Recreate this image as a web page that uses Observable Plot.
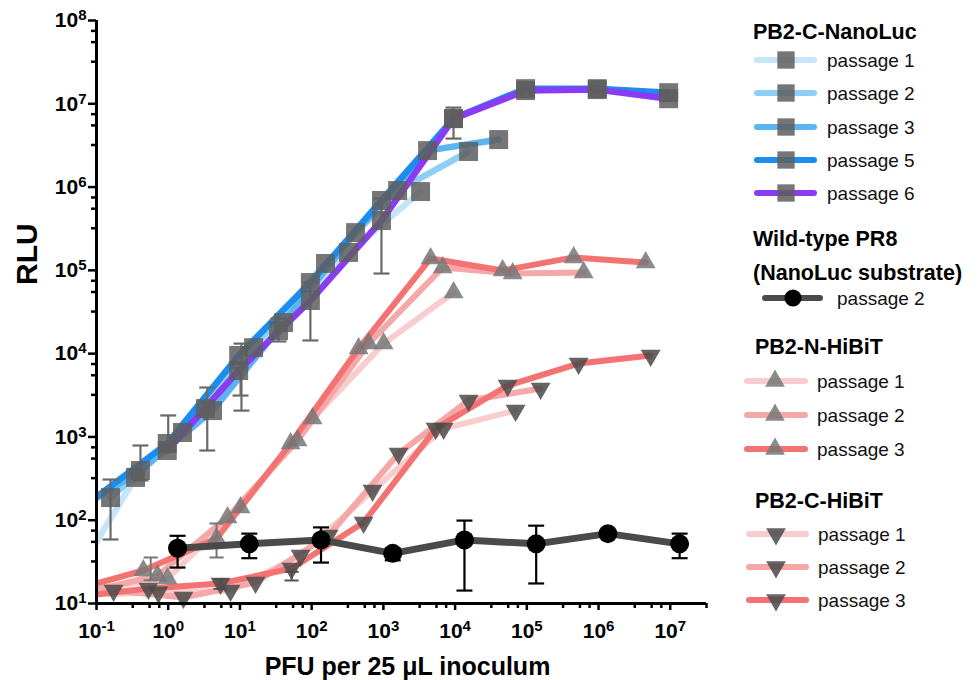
<!DOCTYPE html>
<html><head><meta charset="utf-8">
<script src="https://cdn.jsdelivr.net/npm/d3@7"></script>
<script src="https://cdn.jsdelivr.net/npm/@observablehq/plot@0.6"></script>
<style>
body{margin:0;background:#fff;}
#wrap{position:relative;width:977px;height:680px;font-family:"Liberation Sans",Arial,Helvetica,sans-serif;}
#chart svg{display:block;}
#legend{position:absolute;left:720px;top:0;}
</style></head>
<body><div id="wrap"><div id="chart"></div><svg id="legend" width="257" height="680"></svg></div>
<script>
// ---------- tick values ----------
const xTickExps = [-1, 0, 1, 2, 3, 4, 5, 6, 7];
const yTickExps = [1, 2, 3, 4, 5, 6, 7, 8];
const minorMult = [3.2, 5.5, 7.5];
const xDomain = [0.1, 3.2e7];
const yDomain = [10, 1e8];

// ---------- PB2-C-NanoLuc (squares) ----------
const nlP1X = [0.034, 0.35, 3.3, 34.5, 327, 3300];
const nlP1Y = [12, 326, 2190, 18900, 164000, 883000];
const nlP2X = [0.157, 1.58, 15.5, 156, 1580, 15400];
const nlP2Y = [187, 1130, 11800, 121000, 908000, 2670000];
const nlP3X = [0.041, 0.41, 4.15, 40.6, 409, 4130, 40500];
const nlP3Y = [114, 395, 2070, 23600, 284000, 2740000, 3720000];
const nlP5X = [0.097, 0.97, 9.6, 96, 940, 9500, 96000, 960000, 9500000];
const nlP5Y = [187, 834, 9500, 71400, 690000, 6640000, 15200000, 15200000, 13600000];
const nlP6X = [0.97, 9.6, 96, 940, 9500, 96000, 960000, 9500000];
const nlP6Y = [687, 6270, 43400, 396000, 6640000, 14400000, 14800000, 11500000];
const nlErrX  = [0.157, 0.41, 1.0, 3.5, 10.5, 10.2, 34.5, 96, 940, 9500];
const nlErrLo = [58.7, 300, 687, 687, 2070, 3140, 14000, 14400, 91600, 3820000];
const nlErrHi = [308, 789, 1810, 3920, 13200, 6810, 26400, 71400, 728000, 9000000];

// ---------- Wild-type PR8 (circles) ----------
const wtX  = [1.35, 13.5, 135, 1350, 13500, 135000, 1350000, 13500000];
const wtY  = [46, 52, 58, 40, 58, 52, 69, 52];
const wtLo = [27, 35, 31, 33, 14.3, 17.4, 69, 35];
const wtHi = [65, 69, 82, 46, 99, 86, 69, 69];

// ---------- PB2-N-HiBiT (up triangles) ----------
const nhP1X = [0.097, 0.98, 10.2, 103, 1007, 9530];
const nhP1Y = [15.1, 20.0, 142, 1660, 13200, 54200];
const nhP2X = [0.070, 0.71, 6.71, 63.6, 622, 6700, 63400, 619500];
const nhP2Y = [13.6, 21.7, 108, 906, 13200, 108000, 91600, 94000];
const nhP3X = [0.0448, 0.45, 4.72, 50.8, 451, 4550, 45960, 449600, 4540000];
const nhP3Y = [14.3, 24.9, 60.3, 834, 11500, 139000, 99500, 143000, 124000];
const nhErrX  = [4.72, 0.57];
const nhErrLo = [35.7, 19];
const nhErrHi = [91.3, 35.7];

// ---------- PB2-C-HiBiT (down triangles) ----------
const chP1X = [0.070, 0.73, 7.39, 70.0, 706, 6920, 69800];
const chP1Y = [12.8, 13.6, 14.3, 37.7, 227, 1260, 2070];
const chP2X = [0.0171, 0.173, 1.63, 16.5, 172, 1630, 15400, 155700];
const chP2Y = [11.8, 14.3, 11.8, 17.9, 65.5, 632, 2740, 3810];
const chP3X = [0.0526, 0.53, 5.36, 52.5, 530, 5350, 54000, 527000, 5330000];
const chP3Y = [12.1, 15.1, 17.4, 26.3, 93.8, 1260, 4140, 7600, 9500];
const chErrX  = [52.5, 5.36];
const chErrLo = [18.9, 15];
const chErrHi = [24, 19.5];

// ---------- labels & colours ----------
const xTitle = "PFU per 25 μL inoculum";
const yTitle = "RLU";
const legTitles = ["PB2-C-NanoLuc", "Wild-type PR8", "(NanoLuc substrate)", "PB2-N-HiBiT", "PB2-C-HiBiT"];
const nlLabels = ["passage 1", "passage 2", "passage 3", "passage 5", "passage 6"];
const wtLabels = ["passage 2"];
const hbLabels = ["passage 1", "passage 2", "passage 3"];
const nlColors = ["#c6e5f9", "#8fcff5", "#5bb5f0", "#1c8cef", "#8a3bf4"];
const hbColors = ["#f9cdcd", "#f6a7a7", "#f37272"];
const wtColor = "#4a4a4a";

const FONT = '"Liberation Sans", Arial, Helvetica, sans-serif';
const S3 = Math.sqrt(3);
const symUp = {draw(c, s) {const y = -Math.sqrt(s / (S3 * 3)); c.moveTo(0, 2 * y); c.lineTo(-S3 * y, -y); c.lineTo(S3 * y, -y); c.closePath();}};
const symDown = {draw(c, s) {const y = -Math.sqrt(s / (S3 * 3)); c.moveTo(0, -2 * y); c.lineTo(S3 * y, y); c.lineTo(-S3 * y, y); c.closePath();}};
const symCap = {draw(c, s) {const w = Math.sqrt(s) / 2; c.moveTo(-w, 0); c.lineTo(w, 0);}};

const tbl = (xs, ys) => xs.map((x, i) => ({x, y: ys[i]}));
const errTbl = (xs, lo, hi) => xs.map((x, i) => ({x, lo: lo[i], hi: hi[i]}));
const capTbl = (xs, lo, hi) => xs.flatMap((x, i) => [{x, y: lo[i]}, {x, y: hi[i]}]);
const visible = d => d.x >= xDomain[0] && d.x <= xDomain[1];

const xMajor = xTickExps.map(k => 10 ** k);
const yMajor = yTickExps.map(k => 10 ** k);
const xMinor = xTickExps.flatMap(k => minorMult.map(m => m * 10 ** k)).filter(v => v <= xDomain[1] * 1.001);
const yMinor = yTickExps.slice(0, -1).flatMap(k => minorMult.map(m => m * 10 ** k));

const marks = [];
function lineSeries(xs, ys, color, w) {
  marks.push(Plot.line(tbl(xs, ys), {x: "x", y: "y", stroke: color, strokeWidth: w, curve: "linear", clip: true}));
}
function dotSeries(xs, ys, symbol, r, fill, op) {
  marks.push(Plot.dot(tbl(xs, ys).filter(visible), {x: "x", y: "y", symbol, r, fill, fillOpacity: op, stroke: "none"}));
}
function errSeries(xs, lo, hi, color, w, capR) {
  marks.push(Plot.ruleX(errTbl(xs, lo, hi), {x: "x", y1: "lo", y2: "hi", stroke: color, strokeWidth: w}));
  marks.push(Plot.dot(capTbl(xs, lo, hi), {x: "x", y: "y", symbol: symCap, r: capR, stroke: color, strokeWidth: w, fill: "none"}));
}

// HiBiT series
lineSeries(nhP1X, nhP1Y, hbColors[0], 6);
lineSeries(nhP2X, nhP2Y, hbColors[1], 6);
lineSeries(nhP3X, nhP3Y, hbColors[2], 6);
lineSeries(chP1X, chP1Y, hbColors[0], 6);
lineSeries(chP2X, chP2Y, hbColors[1], 6);
lineSeries(chP3X, chP3Y, hbColors[2], 6);
errSeries(nhErrX, nhErrLo, nhErrHi, "#777", 2, 8);
errSeries(chErrX, chErrLo, chErrHi, "#555", 2, 8);
[[nhP1X, nhP1Y], [nhP2X, nhP2Y], [nhP3X, nhP3Y]].forEach(([a, b]) => dotSeries(a, b, symUp, 7.4, "#777", 0.85));
[[chP1X, chP1Y], [chP2X, chP2Y], [chP3X, chP3Y]].forEach(([a, b]) => dotSeries(a, b, symDown, 7.4, "#4a4a4a", 0.85));

// NanoLuc series
lineSeries(nlP1X, nlP1Y, nlColors[0], 6.5);
lineSeries(nlP2X, nlP2Y, nlColors[1], 6.5);
lineSeries(nlP3X, nlP3Y, nlColors[2], 6.5);
lineSeries(nlP5X, nlP5Y, nlColors[3], 6.5);
lineSeries(nlP6X, nlP6Y, nlColors[4], 6.5);
errSeries(nlErrX, nlErrLo, nlErrHi, "#6a6a6a", 2.2, 9);
[[nlP1X, nlP1Y], [nlP2X, nlP2Y], [nlP3X, nlP3Y], [nlP5X, nlP5Y], [nlP6X, nlP6Y]].forEach(([a, b]) => dotSeries(a, b, "square", 10.7, "#5e5e5e", 0.85));

// Wild type
lineSeries(wtX, wtY, wtColor, 7);
errSeries(wtX, wtLo, wtHi, "#000", 2.2, 9);
marks.push(Plot.dot(tbl(wtX, wtY), {x: "x", y: "y", r: 9.5, fill: "#000", stroke: "none"}));

// Axes
marks.push(Plot.axisX({ticks: xMinor, tickSize: 5, tickFormat: () => "", strokeWidth: 2.5, label: null}));
marks.push(Plot.axisY({ticks: yMinor, tickSize: 5, tickFormat: () => "", strokeWidth: 2.5, label: null}));
marks.push(Plot.axisX({ticks: xMajor, tickSize: 7, tickPadding: 13, strokeWidth: 2.5, fontSize: 21, fontWeight: "bold",
  tickFormat: d => "10^" + Math.round(Math.log10(d)), label: null}));
marks.push(Plot.axisY({ticks: yMajor, tickSize: 8, tickPadding: 2, strokeWidth: 2.5, fontSize: 21, fontWeight: "bold",
  tickFormat: d => "10^" + Math.round(Math.log10(d)), label: null}));
marks.push(Plot.ruleX([xDomain[0]], {stroke: "#000", strokeWidth: 3}));
marks.push(Plot.ruleY([yDomain[0]], {stroke: "#000", strokeWidth: 3}));
marks.push(Plot.text([xTitle], {frameAnchor: "bottom", lineAnchor: "top", dx: 6, dy: 54, fontSize: 25, fontWeight: "bold", fill: "#000"}));
marks.push(Plot.text([yTitle], {frameAnchor: "left", rotate: -90, dx: -69, dy: -27, fontSize: 30, fontWeight: "bold", fill: "#000"}));

const chart = Plot.plot({
  width: 720, height: 680,
  marginLeft: 96, marginRight: 14, marginTop: 20, marginBottom: 77,
  x: {type: "log", domain: xDomain},
  y: {type: "log", domain: yDomain},
  style: {fontFamily: FONT, fontSize: "21px", color: "#000", background: "#fff", overflow: "visible"},
  marks
});
document.getElementById("chart").appendChild(chart);

// superscript tick labels
const NS = "http://www.w3.org/2000/svg";
chart.querySelectorAll("text").forEach(t => {
  const m = /^10\^(-?\d+)$/.exec(t.textContent);
  if (!m) return;
  t.textContent = "";
  const a = document.createElementNS(NS, "tspan"); a.textContent = "10"; t.appendChild(a);
  const b = document.createElementNS(NS, "tspan"); b.setAttribute("dy", "-7"); b.setAttribute("font-size", "15"); b.textContent = m[1]; t.appendChild(b);
});

// ---------- legend ----------
const L = d3.select("#legend").style("font-family", FONT);
const OX = 720;
function title(text, x, y) {
  L.append("text").attr("x", x - OX).attr("y", y).attr("font-size", 21.5).attr("font-weight", "bold").attr("fill", "#000").text(text);
}
function item(y, x1, x2, xm, xt, color, w, sym, size, fill, op, label) {
  L.append("line").attr("x1", x1 - OX).attr("x2", x2 - OX).attr("y1", y).attr("y2", y)
    .attr("stroke", color).attr("stroke-width", w).attr("stroke-linecap", "round");
  L.append("path").attr("d", d3.symbol(sym, size)()).attr("transform", `translate(${xm - OX},${y})`)
    .attr("fill", fill).attr("fill-opacity", op);
  L.append("text").attr("x", xt - OX).attr("y", y + 7).attr("font-size", 19).attr("fill", "#111").text(label);
}
title(legTitles[0], 753, 39);
[60, 93, 127, 160, 193].forEach((y, i) => item(y, 757, 814, 786, 827, nlColors[i], 6, d3.symbolSquare, 300, "#5e5e5e", 0.85, nlLabels[i]));
title(legTitles[1], 753, 246);
title(legTitles[2], 753, 280);
item(298, 765, 820, 793, 837, wtColor, 6, d3.symbolCircle, 230, "#000", 1, wtLabels[0]);
title(legTitles[3], 755, 354);
[381, 415, 449].forEach((y, i) => item(y, 747, 805, 775, 817, hbColors[i], 6, symUp, 170, "#777", 0.85, hbLabels[i]));
title(legTitles[4], 755, 508);
[534, 567, 600].forEach((y, i) => item(y, 749, 806, 776, 818, hbColors[i], 6, symDown, 170, "#4a4a4a", 0.85, hbLabels[i]));
</script>
</body></html>
